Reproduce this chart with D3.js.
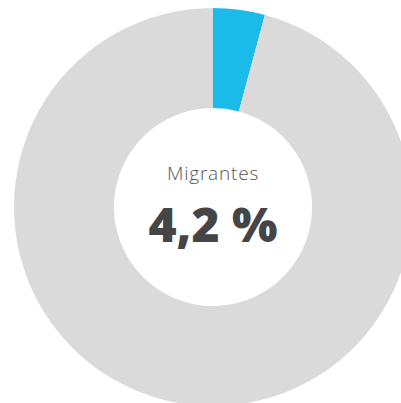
<!DOCTYPE html>
<html>
<head>
<meta charset="utf-8">
<script src="https://cdn.jsdelivr.net/npm/d3@7"></script>
<style>
  html, body { margin: 0; padding: 0; background: #fff; }
  #chart { width: 401px; height: 403px; overflow: hidden; }
</style>
</head>
<body>
<div id="chart"></div>
<script>
'use strict';

// shares of the population
const labels = ['Migrantes', 'Resto'];
const values = [4.2, 95.8];
const colors = ['#1bbbe9', '#dadada'];
const title = 'Migrantes';
const valueLabel = '4,2 %';

const width = 401, height = 403;
const cx = 213, cy = 207;
const outer = 199, inner = 99;

const svg = d3.select('#chart')
  .append('svg')
  .attr('width', width)
  .attr('height', height);

const g = svg.append('g')
  .attr('transform', 'translate(' + cx + ',' + cy + ')');

const pie = d3.pie().sort(null).value(d => d);
const arc = d3.arc().innerRadius(inner).outerRadius(outer);

g.selectAll('path.slice')
  .data(pie(values))
  .enter()
  .append('path')
  .attr('class', 'slice')
  .attr('d', arc)
  .attr('fill', (d, i) => colors[i]);

// center labels
g.append('text')
  .attr('x', 0)
  .attr('y', -27)
  .attr('text-anchor', 'middle')
  .style('font-family', '"Open Sans", sans-serif')
  .style('font-size', '19px')
  .style('font-weight', 300)
  .style('letter-spacing', '0.8px')
  .style('fill', '#555')
  .text(title);

g.append('text')
  .attr('x', 0)
  .attr('y', 35)
  .attr('text-anchor', 'middle')
  .style('font-family', '"Open Sans", sans-serif')
  .style('font-size', '48px')
  .style('font-weight', 800)
  .style('fill', '#454545')
  .text(valueLabel);
</script>
</body>
</html>
